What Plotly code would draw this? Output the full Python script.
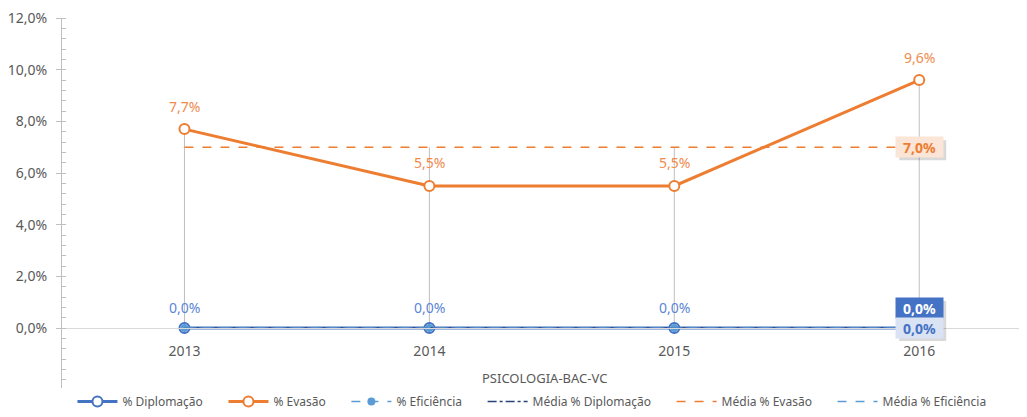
import plotly.graph_objects as go

categories = ["2013", "2014", "2015", "2016"]
diplomacao = [0.0, 0.0, 0.0, 0.0]
evasao = [7.7, 5.5, 5.5, 9.6]
eficiencia = [0.0, 0.0, 0.0, 0.0]
media_diplomacao = [0.0, 0.0, 0.0, 0.0]
media_evasao = [7.0, 7.0, 7.0, 7.0]
media_eficiencia = [0.0, 0.0, 0.0, 0.0]
y_tick_vals = [0, 2, 4, 6, 8, 10, 12]
y_tick_text = ["0,0%", "2,0%", "4,0%", "6,0%", "8,0%", "10,0%", "12,0%"]
x_title = "PSICOLOGIA-BAC-VC"

BLUE = "#4472C4"
ORANGE = "#ED7D31"
LBLUE = "#5B9BD5"
DBLUE = "#264478"
GRAY = "#595959"
FONT = "Noto Sans"
PAD = "\u00a0" * 5

def pct(v):
    return f"{v:.1f}".replace(".", ",") + "%"

Y_MIN, Y_MAX = -2.32, 12.0

fig = go.Figure()

# high-low lines
all_series = [diplomacao, evasao, eficiencia, media_diplomacao, media_evasao, media_eficiencia]
hx, hy = [], []
for i, c in enumerate(categories):
    vals = [s[i] for s in all_series]
    hx += [c, c, None]
    hy += [max(vals), min(vals), None]
fig.add_trace(go.Scatter(x=hx, y=hy, mode="lines", line=dict(color="#BFBFBF", width=1),
                         showlegend=False, hoverinfo="skip"))

fig.add_trace(go.Scatter(
    x=categories, y=diplomacao, name="% Diplomação" + PAD, mode="lines+markers",
    line=dict(color=BLUE, width=3),
    marker=dict(symbol="circle", size=10, color="white", line=dict(color=BLUE, width=2))))
fig.add_trace(go.Scatter(
    x=categories, y=evasao, name="% Evasão" + PAD, mode="lines+markers",
    line=dict(color=ORANGE, width=3),
    marker=dict(symbol="circle", size=10, color="white", line=dict(color=ORANGE, width=2))))
fig.add_trace(go.Scatter(
    x=categories, y=eficiencia, name="% Eficiência" + PAD, mode="lines+markers",
    line=dict(color=LBLUE, width=1.5, dash="dash"),
    marker=dict(symbol="circle", size=8, color=LBLUE)))
fig.add_trace(go.Scatter(
    x=categories, y=media_diplomacao, name="Média % Diplomação" + PAD, mode="lines",
    line=dict(color=DBLUE, width=1.5, dash="dashdot")))
fig.add_trace(go.Scatter(
    x=categories, y=media_evasao, name="Média % Evasão" + PAD, mode="lines",
    line=dict(color=ORANGE, width=1.5, dash="dash")))
fig.add_trace(go.Scatter(
    x=categories, y=media_eficiencia, name="Média % Eficiência", mode="lines",
    line=dict(color=LBLUE, width=1.5, dash="dash")))

annotations = []
shapes = []
# value labels
for i, v in enumerate(evasao):
    annotations.append(dict(x=i, y=v, xref="x", yref="y", text=pct(v), showarrow=False,
                            yshift=23, font=dict(color="#F08A4B", size=14, family=FONT)))
for i, v in enumerate(diplomacao[:3]):
    annotations.append(dict(x=i, y=v, xref="x", yref="y", text=pct(v), showarrow=False,
                            yshift=21, font=dict(color="#5B86D6", size=14, family=FONT)))
# boxed labels at last category
last = len(categories) - 1
boxes = [
    (media_diplomacao[-1], 20, "white", BLUE),
    (media_evasao[-1], 0, ORANGE, "#FBE5D6"),
    (media_eficiencia[-1], 0, BLUE, "#DAE3F3"),
]
for v, ys, fc, bg in boxes:
    shapes.append(dict(type="rect", xref="x", yref="y", xsizemode="pixel", ysizemode="pixel",
                       xanchor=last, yanchor=v, x0=-20, x1=27, y0=ys - 13, y1=ys + 7,
                       fillcolor="rgba(0,0,0,0.15)", line=dict(width=0), layer="above"))
for v, ys, fc, bg in boxes:
    annotations.append(dict(x=last, y=v, xref="x", yref="y", text="<b>" + pct(v) + "</b>",
                            showarrow=False, yshift=ys, bgcolor=bg,
                            font=dict(color=fc, size=14, family=FONT),
                            borderpad=0, width=47, height=20))
annotations.append(dict(x=0.5, y=0, xref="paper", yref="paper",
                        text=x_title, showarrow=False, yshift=10, yanchor="middle",
                        font=dict(color=GRAY, size=13, family=FONT)))

zero_pos = (0 - Y_MIN) / (Y_MAX - Y_MIN)

# page body adds an 8px offset; figure sized to the visible window
fig.update_layout(
    width=1019, height=409,
    margin=dict(l=54, r=0, t=10, b=29, autoexpand=False),
    paper_bgcolor="white", plot_bgcolor="white",
    font=dict(family=FONT, color=GRAY, size=13),
    showlegend=True,
    legend=dict(orientation="h", x=0.487, xanchor="center", y=-0.0757, yanchor="bottom",
                font=dict(size=12, color=GRAY, family=FONT), itemwidth=40),
    xaxis=dict(type="category", range=[-0.5, 3.44], showgrid=False, zeroline=False,
               anchor="free", position=zero_pos, showline=True, linecolor="#D9D9D9", linewidth=1,
               ticks="", ticklabelstandoff=10, automargin=False,
               tickfont=dict(color=GRAY, size=14, family=FONT)),
    yaxis=dict(range=[Y_MIN, Y_MAX], tickvals=y_tick_vals, ticktext=y_tick_text,
               showgrid=False, zeroline=False, showline=True, linecolor="#BFBFBF", linewidth=1,
               ticks="outside", ticklen=5, tickcolor="#BFBFBF", automargin=False,
               ticklabelstandoff=6, ticklabeloverflow="allow",
               minor=dict(dtick=0.4, tick0=0, ticks="inside", ticklen=4, tickcolor="#BFBFBF", showgrid=False),
               tickfont=dict(color=GRAY, size=14, family=FONT)),
    annotations=annotations,
    shapes=shapes,
)

fig.write_html("out.html")
